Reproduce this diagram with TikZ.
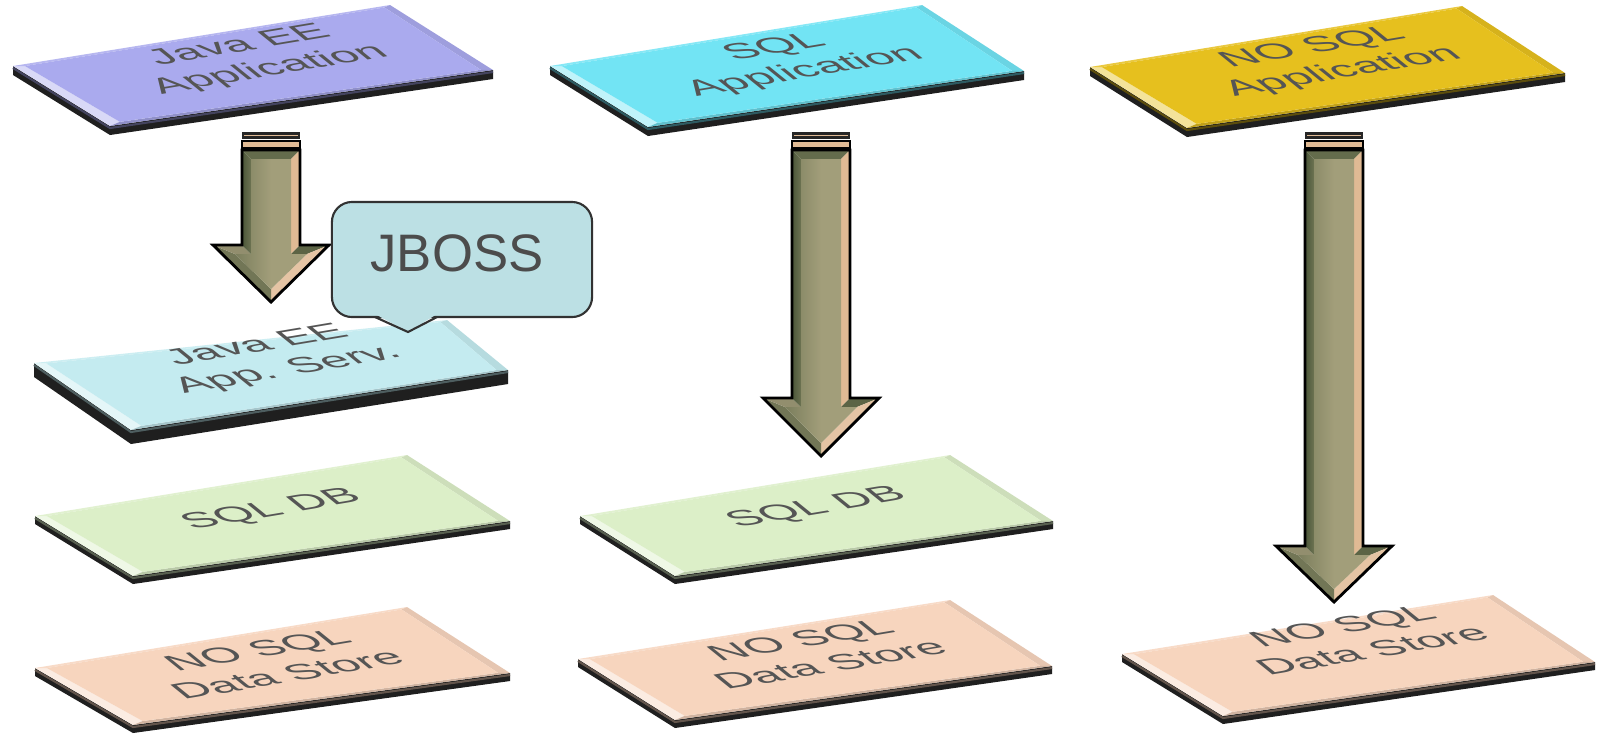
\documentclass[tikz,border=0pt]{standalone}
\usepackage{fontspec}
\setmainfont{Liberation Sans}
\usetikzlibrary{calc}

\definecolor{javaapp}{RGB}{170,170,238}
\definecolor{sqlapp}{RGB}{114,228,244}
\definecolor{nosqlapp}{RGB}{230,192,30}
\definecolor{appserv}{RGB}{196,235,240}
\definecolor{sqldb}{RGB}{220,239,200}
\definecolor{nosqlstore}{RGB}{247,213,190}
\definecolor{callfill}{RGB}{188,224,228}
\definecolor{callline}{RGB}{50,50,50}
\definecolor{labelgray}{RGB}{85,85,85}
\definecolor{arrowmid}{RGB}{162,158,122}
\definecolor{arrowdark}{RGB}{74,86,56}
\definecolor{arrowlight}{RGB}{224,186,148}

\tikzset{
  platetext/.style={align=center, inner sep=0pt, text=labelgray,
    font=\fontsize{13.5}{16.5}\selectfont},
  calloutbox/.style={draw=callline, fill=callfill, line width=0.6pt,
    rounded corners=0.2cm, minimum width=2.6cm, minimum height=1.15cm, inner sep=0pt},
  callouttext/.style={text=black!70, inner sep=0pt, font=\fontsize{15}{18}\selectfont},
  arrowline/.style={draw=black, line width=0.8pt, line join=miter},
}

% a bevelled plate seen in perspective: name, colour, left, back, right, front corner, thickness
\newcommand{\plate}[7]{%
  \coordinate (#1L) at (#3);
  \coordinate (#1B) at (#4);
  \coordinate (#1R) at (#5);
  \coordinate (#1F) at (#6);
  \coordinate (#1c) at ($0.25*(#1L)+0.25*(#1B)+0.25*(#1R)+0.25*(#1F)$);
  \fill[black!88] (#1L) -- (#1F) -- (#1R) -- ($(#1R)+(0,#7)$) -- ($(#1F)+(0,#7)$) -- ($(#1L)+(0,#7)$) -- cycle;
  \draw[#2!40!black, line width=0.6pt] ($(#1L)+(0,2)$) -- ($(#1F)+(0,2)$) -- ($(#1R)+(0,2)$);
  \coordinate (#1l) at ($(#1L)!0.05!(#1c)$);
  \coordinate (#1b) at ($(#1B)!0.04!(#1c)$);
  \coordinate (#1r) at ($(#1R)!0.05!(#1c)$);
  \coordinate (#1f) at ($(#1F)!0.07!(#1c)$);
  \fill[#2!45!white] (#1L) -- (#1F) -- (#1f) -- (#1l) -- cycle;
  \fill[#2!85!white] (#1L) -- (#1B) -- (#1b) -- (#1l) -- cycle;
  \fill[#2!93!black] (#1B) -- (#1R) -- (#1r) -- (#1b) -- cycle;
  \fill[#2!84!black] (#1F) -- (#1R) -- (#1r) -- (#1f) -- cycle;
  \fill[#2] (#1l) -- (#1b) -- (#1r) -- (#1f) -- cycle;
}

% text lying on a plate: name, position, text
\newcommand{\platelabel}[3]{%
  \begin{scope}[shift={(#2)}, cm={0.986,0.165,-0.52,0.42,(0,0)}]
    \node[platetext, transform shape] (#1) at (0,0) {#3};
  \end{scope}}

% bevelled block arrow hanging from a named top point: top, neck depth, tip depth
\newcommand{\blockarrow}[3]{%
  \begin{scope}[shift={(#1)}]
    \fill[black!85] (-29,-18) rectangle (29,-11);
    \draw[arrowlight, line width=0.5pt] (-27,-14.5) -- (27,-14.5);
    \fill[arrowlight] (-29,-9) rectangle (29,-2);
    \draw[black, line width=0.5pt] (-29,-9) rectangle (29,-2);
    % facets
    \fill[arrowdark!70!arrowmid] (-29,0) -- (29,0) -- (20,9) -- (-20,9) -- cycle;
    \fill[arrowlight] (29,0) -- (29,#2) -- (20,{#2+9}) -- (20,9) -- cycle;
    \fill[arrowdark!80!arrowmid] (29,#2) -- (58,#2) -- (36,{#2+9}) -- (20,{#2+9}) -- cycle;
    \fill[arrowlight!85!white] (58,#2) -- (0,#3) -- (0,{#3-13}) -- (36,{#2+9}) -- cycle;
    \fill[arrowdark!55!arrowmid] (0,#3) -- (-58,#2) -- (-36,{#2+9}) -- (0,{#3-13}) -- cycle;
    \fill[arrowmid!90!black] (-58,#2) -- (-29,#2) -- (-20,{#2+9}) -- (-36,{#2+9}) -- cycle;
    \shade[left color=arrowdark, right color=arrowdark!60!arrowmid] (-29,#2) -- (-29,0) -- (-20,9) -- (-20,{#2+9}) -- cycle;
    \shade[left color=arrowdark!45!arrowmid, right color=arrowmid, middle color=arrowmid]
      (-20,9) -- (20,9) -- (20,{#2+9}) -- (36,{#2+9}) -- (0,{#3-13}) -- (-36,{#2+9}) -- (-20,{#2+9}) -- cycle;
    \draw[arrowline] (-29,0) -- (29,0) -- (29,#2) -- (58,#2) -- (0,#3) -- (-58,#2) -- (-29,#2) -- cycle;
  \end{scope}}

\begin{document}
\begin{tikzpicture}[x=0.01cm, y=-0.01cm]
  \useasboundingbox (0,0) rectangle (1601,735);
  \fill[white] (0,0) rectangle (1601,735);

  % application layer
  \plate{pja}{javaapp}{13,66}{390,5}{493,70}{110,126}{9}
  \plate{psa}{sqlapp}{550,66}{922,5}{1024,71}{648,127}{9}
  \plate{pna}{nosqlapp}{1090,67}{1462,6}{1565,73}{1187,128}{9}
  \platelabel{tja}{255,58}{Java EE\\Application}
  \platelabel{tsa}{790,60}{SQL\\Application}
  \platelabel{tna}{1328,60}{NO SQL\\Application}

  % application server
  \plate{pas}{appserv}{34,363}{447,320}{508,370}{131,430}{14}
  \platelabel{tas}{273,358}{Java EE\\App. Serv.}

  % relational databases
  \plate{pdb1}{sqldb}{35,516}{407,455}{510,521}{133,576}{8}
  \plate{pdb2}{sqldb}{580,516}{950,455}{1053,521}{675,576}{8}
  \platelabel{tdb1}{272,510}{SQL DB}
  \platelabel{tdb2}{817,508}{SQL DB}

  % document stores
  \plate{pns1}{nosqlstore}{35,668}{407,607}{510,673}{133,725}{8}
  \plate{pns2}{nosqlstore}{578,659}{950,600}{1052,666}{675,720}{8}
  \plate{pns3}{nosqlstore}{1122,654}{1493,595}{1595,662}{1223,716}{8}
  \platelabel{tns1}{272,662}{NO SQL\\Data Store}
  \platelabel{tns2}{815,652}{NO SQL\\Data Store}
  \platelabel{tns3}{1357,638}{NO SQL\\Data Store}

  % call paths
  \coordinate (a1) at (271,150);
  \coordinate (a2) at (821,150);
  \coordinate (a3) at (1334,150);
  \blockarrow{a1}{95}{152}
  \blockarrow{a2}{248}{306}
  \blockarrow{a3}{396}{452}

  % JBOSS callout
  \node[calloutbox] (jboss) at (462,259.5) {};
  \coordinate (jbossptr) at (408,332);
  \fill[callfill] (375,314) -- (jbossptr) -- (437,314) -- cycle;
  \draw[callline, line width=0.6pt, line join=miter] (375,317) -- (jbossptr) -- (437,317);
  \node[callouttext] (jbosslabel) at (457,253) {JBOSS};
\end{tikzpicture}
\end{document}
